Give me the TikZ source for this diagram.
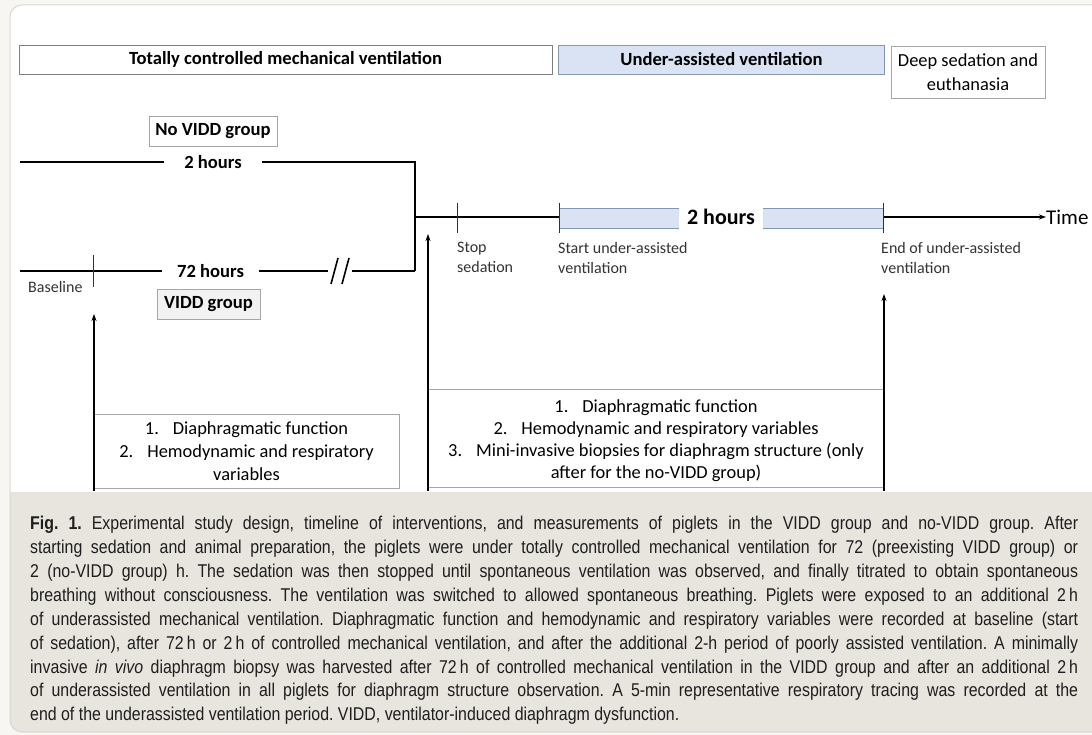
\documentclass[tikz,border=0pt]{standalone}
\usepackage{fontspec}
\setmainfont{Carlito}
\newfontfamily\capfont[FakeStretch=0.86]{Liberation Sans}
\usetikzlibrary{arrows.meta}
\definecolor{outerbg}{HTML}{F7F6F3}
\definecolor{capbg}{HTML}{E8E5DF}
\definecolor{panelline}{HTML}{D9D6CF}
\definecolor{boxline}{HTML}{7F7F7F}
\definecolor{lightline}{HTML}{A6A6A6}
\definecolor{blfill}{HTML}{DAE3F3}
\definecolor{blline}{HTML}{8497B0}
\definecolor{vgray}{HTML}{F2F2F2}
\definecolor{captext}{HTML}{1E1E1E}
\newcommand\mycapline[1]{\hbox to 1048pt{#1}}
\begin{document}
\begin{tikzpicture}[x=1pt,y=-1pt,
  hdr/.style={draw=boxline, line width=0.9pt, inner sep=0pt, align=center},
  grp/.style={draw=lightline, line width=0.8pt, inner sep=0pt, font=\fontsize{18.6}{22}\selectfont\bfseries},
  lbl/.style={font=\fontsize{16}{20}\selectfont, text=black!80, align=left, inner sep=0pt},
  meas/.style={font=\fontsize{18.4}{23}\selectfont, align=center, inner sep=0pt},
  thickln/.style={line width=2.2pt},
  midln/.style={line width=1.7pt},
  tick/.style={line width=0.9pt, black!80},
  arr/.style={line width=1.7pt, -{Stealth[length=7pt,width=5pt]}},
  thinbox/.style={draw=lightline, line width=0.8pt}
]
\useasboundingbox (0,0) rectangle (1092,735);
% background and panel
\fill[outerbg] (0,0) rectangle (1092,735);
\path[fill=capbg, draw=panelline, line width=1pt, rounded corners=12pt] (10,5) rectangle (1110,732);
\begin{scope}
  \clip[rounded corners=12pt] (10.5,5.5) rectangle (1110,731);
  \fill[white] (10,5) rectangle (1110,492);
\end{scope}

% header boxes
\node[hdr, minimum width=533pt, minimum height=29pt, font=\fontsize{18.6}{22}\selectfont\bfseries] (tcmv) at (285.5,59.5) {Totally controlled mechanical ventilation};
\node[hdr, draw=blline, fill=blfill, minimum width=326pt, minimum height=29pt, font=\fontsize{18.6}{22}\selectfont\bfseries] (uav) at (721.5,59.5) {Under-assisted ventilation};
\node[hdr, draw=lightline, minimum width=154pt, minimum height=52pt, font=\fontsize{18.4}{24}\selectfont] (deep) at (968,72) {Deep sedation and\\euthanasia};

% group boxes
\node[grp, minimum width=128pt, minimum height=30pt] (novidd) at (213,131) {No VIDD group};
\node[grp, fill=vgray, minimum width=103pt, minimum height=30pt] (vidd) at (208.5,304) {VIDD group};

% timeline coordinates
\coordinate (a0) at (20,162);
\coordinate (corner) at (415,162);
\coordinate (join) at (415,271);
\coordinate (jn) at (415,217);
\coordinate (b0) at (20,271);
\coordinate (brkL) at (328,271);
\coordinate (brkR) at (352,271);
\coordinate (sstop) at (457,217);
\coordinate (sstart) at (559,217);
\coordinate (send) at (883,217);
\coordinate (base) at (93,271);

% 2 hours (no VIDD)
\node[inner xsep=20pt, inner ysep=0pt, font=\fontsize{18.6}{22}\selectfont\bfseries] (t2h) at (213,162) {2 hours};
\draw[thickln] (a0) -- (t2h.west |- a0);
\draw[thickln, line join=miter] (t2h.east |- a0) -- (corner) -- (join);

% 72 hours (VIDD)
\node[inner xsep=14.5pt, inner ysep=0pt, font=\fontsize{18.6}{22}\selectfont\bfseries] (t72) at (210.5,271) {72 hours};
\draw[midln] (b0) -- (t72.west |- b0);
\draw[midln] (t72.east |- b0) -- (brkL);
\draw[midln] (brkR) -- (join);
\draw[line width=1.6pt] (331,284) -- (338,258);
\draw[line width=1.6pt] (342,284) -- (349,258);

% time axis
\draw[midln] (jn) -- (sstart);
\node[inner xsep=8pt, inner ysep=0pt, font=\fontsize{22}{26}\selectfont\bfseries] (t2big) at (721,217) {2 hours};
\fill[blfill] (559,209) rectangle (679,229);
\fill[blfill] (763,209) rectangle (883,229);
\draw[blline, line width=1pt] (559,209) -- (679,209) (559,229) -- (679,229);
\draw[blline, line width=1pt] (763,209) -- (883,209) (763,229) -- (883,229);
\node[anchor=west, inner sep=0pt, font=\fontsize{21}{25}\selectfont] (time) at (1046,217) {Time};
\draw[line width=1.4pt, -{Stealth[length=7pt,width=5pt]}] (send) -- (time.west);

% ticks
\draw[tick] (457,203) -- (457,233);
\draw[tick] (559,203) -- (559,233);
\draw[tick] (883,203) -- (883,233);
\draw[tick] (93,255) -- (93,287);

% small labels
\node[lbl, anchor=west] (lbase) at (28,287) {Baseline};
\node[lbl, anchor=north west] (lstop) at (457,242) {Stop\\sedation};
\node[lbl, anchor=north west] (lstart) at (558,242) {Start under-assisted\\ventilation};
\node[lbl, anchor=north west] (lend) at (881,242) {End of under-assisted\\ventilation};

% measurement boxes
\node[thinbox, minimum width=305pt, minimum height=74pt, inner sep=0pt] (lbox) at (246.5,451) {};
\node[meas] (ltext) at (lbox.center) {1.\hspace{14pt}Diaphragmatic function\\2.\hspace{14pt}Hemodynamic and respiratory\\variables};
\node[minimum width=456pt, minimum height=97pt, inner sep=0pt] (mbox) at (656,438.5) {};
\draw[lightline, line width=0.8pt] (mbox.north west) -- (mbox.north east);
\draw[lightline, line width=0.8pt] (mbox.south west) -- (mbox.south east);
\node[meas, font=\fontsize{18.4}{22}\selectfont] (mtext) at (656,440.5) {1.\hspace{14pt}Diaphragmatic function\\2.\hspace{14pt}Hemodynamic and respiratory variables\\3.\hspace{14pt}Mini-invasive biopsies for diaphragm structure (only\\after for the no-VIDD group)};

% arrows
\coordinate (la0) at (94,491);
\coordinate (la1) at (94,314);
\coordinate (ma0) at (428,491);
\coordinate (ma1) at (428,234);
\coordinate (ra0) at (884,491);
\coordinate (ra1) at (884,294);
\draw[arr] (la0) -- (la1);
\draw[arr] (ma0) -- (ma1);
\draw[arr] (ra0) -- (ra1);

% caption
\node[anchor=north west, inner sep=0pt, text=captext] (caption) at (30,516) {\capfont\fontsize{18.5}{23.9}\selectfont\frenchspacing\vbox{\hsize=1048pt
\mycapline{\textbf{Fig. 1.} Experimental study design, timeline of interventions, and measurements of piglets in the VIDD group and no-VIDD group. After}
\mycapline{starting sedation and animal preparation, the piglets were under totally controlled mechanical ventilation for 72 (preexisting VIDD group) or}
\mycapline{2 (no-VIDD group) h. The sedation was then stopped until spontaneous ventilation was observed, and finally titrated to obtain spontaneous}
\mycapline{breathing without consciousness. The ventilation was switched to allowed spontaneous breathing. Piglets were exposed to an additional 2\,h}
\mycapline{of underassisted mechanical ventilation. Diaphragmatic function and hemodynamic and respiratory variables were recorded at baseline (start}
\mycapline{of sedation), after 72\,h or 2\,h of controlled mechanical ventilation, and after the additional 2-h period of poorly assisted ventilation. A minimally}
\mycapline{invasive \textit{in vivo} diaphragm biopsy was harvested after 72\,h of controlled mechanical ventilation in the VIDD group and after an additional 2\,h}
\mycapline{of underassisted ventilation in all piglets for diaphragm structure observation. A 5-min representative respiratory tracing was recorded at the}
\hbox{end of the underassisted ventilation period. VIDD, ventilator-induced diaphragm dysfunction.}}};
\end{tikzpicture}
\end{document}
